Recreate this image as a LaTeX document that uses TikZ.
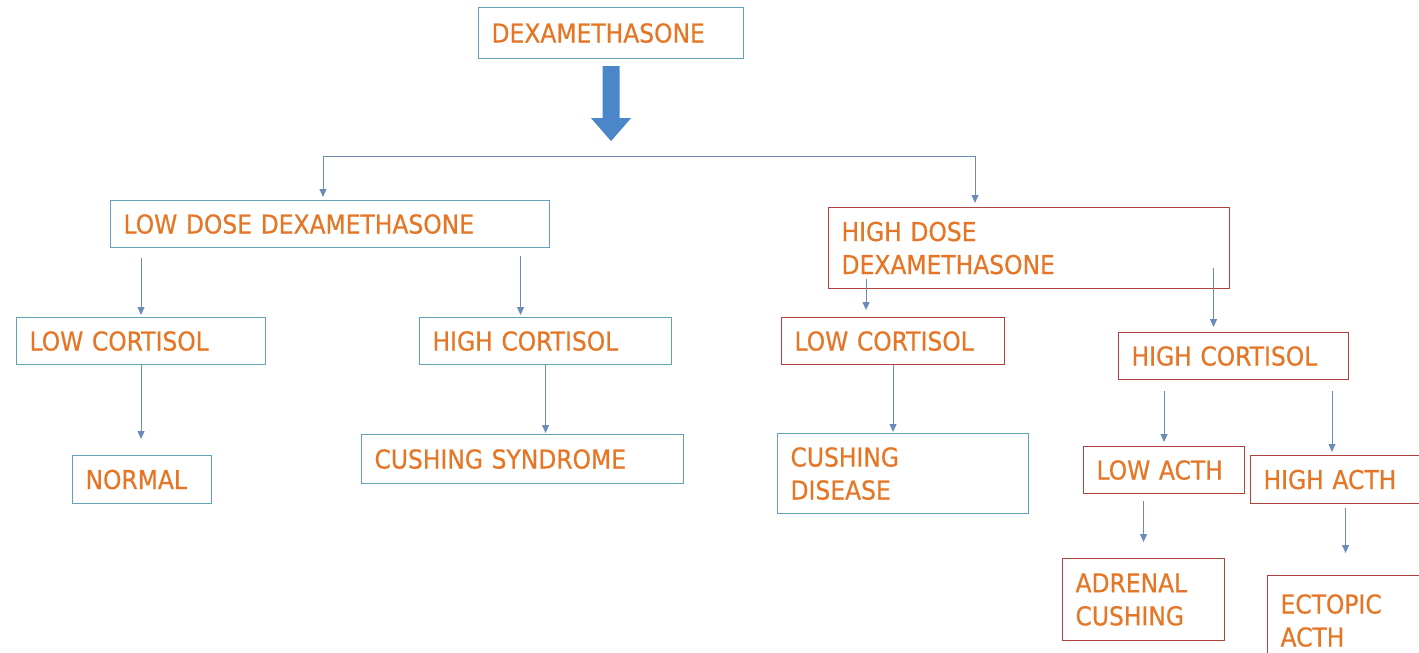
\documentclass[tikz,border=0pt]{standalone}
\usepackage{fontspec}
\setmainfont[FakeBold=0.6,FakeStretch=0.9]{DejaVu Sans}
\usetikzlibrary{arrows.meta}

\definecolor{boxteal}{RGB}{96,163,181}
\definecolor{boxred}{RGB}{176,66,62}
\definecolor{txtorange}{RGB}{229,118,38}
\definecolor{linkblue}{RGB}{108,140,184}
\definecolor{bigblue}{RGB}{74,134,200}

\begin{document}
\begin{tikzpicture}[x=1pt,y=-1pt]

	\tikzstyle{box} = [draw,line width=1.1pt,anchor=north west,align=left,inner xsep=13pt,inner ysep=0pt,font=\fontsize{26}{33}\selectfont,text=txtorange]
	\tikzstyle{tealbox} = [box,draw=boxteal]
	\tikzstyle{redbox} = [box,draw=boxred]
	\tikzstyle{link} = [draw=linkblue,line width=1pt,-{Triangle[length=8pt,width=7pt]}]

	\useasboundingbox (0,0) rectangle (1419,653);

	\node [tealbox,text width=239pt,minimum height=51pt] (dexa) at (478,7) {DEXAMETHASONE};

	\node [tealbox,text width=413pt,minimum height=47pt] (lowdose) at (110,200) {LOW DOSE DEXAMETHASONE};
	\node [redbox,text width=375pt,minimum height=81pt] (highdose) at (828,207) {HIGH DOSE\\DEXAMETHASONE};

	\node [tealbox,text width=223pt,minimum height=47pt] (lowcortL) at (16,317) {LOW CORTISOL};
	\node [tealbox,text width=226pt,minimum height=47pt] (highcortL) at (419,317) {HIGH CORTISOL};
	\node [redbox,text width=197pt,minimum height=47pt] (lowcortR) at (781,317) {LOW CORTISOL};
	\node [redbox,text width=204pt,minimum height=47pt] (highcortR) at (1118,332) {HIGH CORTISOL};

	\node [tealbox,text width=113pt,minimum height=48pt] (normal) at (72,455) {NORMAL};
	\node [tealbox,text width=296pt,minimum height=49pt] (cushsyn) at (361,434) {CUSHING SYNDROME};
	\node [tealbox,text width=225pt,minimum height=80pt] (cushdis) at (777,433) {CUSHING\\DISEASE};
	\node [redbox,text width=135pt,minimum height=47pt] (lowacth) at (1083,446) {LOW ACTH};
	\node [redbox,text width=149pt,minimum height=48pt] (highacth) at (1250,455) {HIGH ACTH};

	\node [redbox,text width=136pt,minimum height=82pt] (adrenal) at (1062,558) {ADRENAL\\CUSHING};
	\node [redbox,text width=130pt,minimum height=90pt] (ectopic) at (1267,575) {ECTOPIC\\ACTH};

	% block arrow under the top box
	\fill[bigblue] ([xshift=-8.5pt,yshift=-7pt]dexa.south) -- ++(17,0) -- ++(0,52) -- ++(11.5,0) -- ++(-20,23) -- ++(-20,-23) -- ++(11.5,0) -- cycle;

	\coordinate (forkL) at (323,156);
	\coordinate (forkR) at (975,156);
	\draw[link,{Triangle[length=8pt,width=7pt]}-{Triangle[length=8pt,width=7pt]},shorten <=3pt,shorten >=4pt] (forkL |- lowdose.north) -- (forkL) -- (forkR) -- (forkR |- highdose.north);

	\draw[link,shorten <=10pt,shorten >=2pt] (lowdose.south -| lowcortL.north) -- (lowcortL.north);
	\draw[link,shorten <=8pt,shorten >=2pt] ([xshift=-25pt]highcortL.north |- lowdose.south) -- ([xshift=-25pt]highcortL.north);
	\draw[link,shorten >=16pt] (lowcortL.south) -- (lowcortL.south |- normal.north);
	\draw[link,shorten >=1pt] (highcortL.south) -- (highcortL.south |- cushsyn.north);

	\draw[link,shorten <=-10pt,shorten >=7pt] ([xshift=-27pt]lowcortR.north |- highdose.south) -- ([xshift=-27pt]lowcortR.north);
	\draw[link,shorten <=-21pt,shorten >=5pt] ([xshift=-20pt]highcortR.north |- highdose.south) -- ([xshift=-20pt]highcortR.north);
	\draw[link,shorten >=1pt] (lowcortR.south) -- (lowcortR.south |- cushdis.north);

	\draw[link,shorten <=11pt,shorten >=4pt] (lowacth.north |- highcortR.south) -- (lowacth.north);
	\draw[link,shorten <=11pt,shorten >=3pt] ([xshift=82pt]highacth.north west |- highcortR.south) -- ([xshift=82pt]highacth.north west);
	\draw[link,shorten <=7pt,shorten >=16pt] (adrenal.north |- lowacth.south) -- (adrenal.north);
	\draw[link,shorten <=4pt,shorten >=22pt] (ectopic.north |- highacth.south) -- (ectopic.north);

\end{tikzpicture}
\end{document}
